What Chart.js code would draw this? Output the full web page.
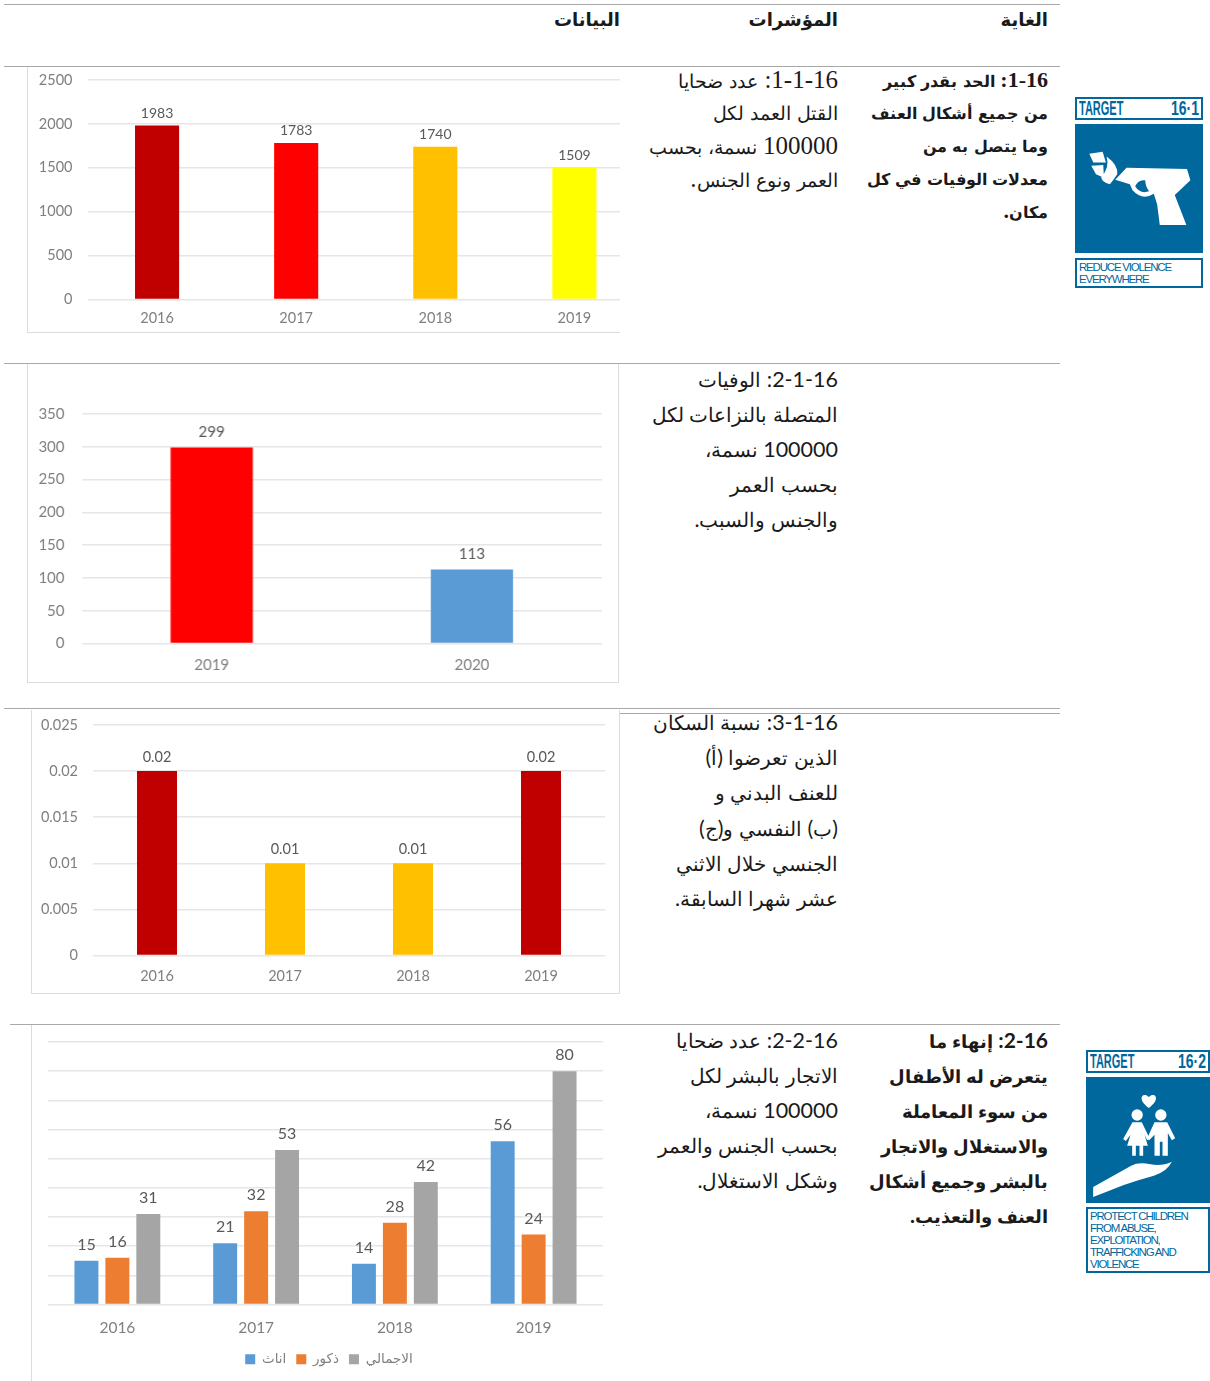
<!DOCTYPE html>
<html lang="ar">
<head>
<meta charset="utf-8">
<title>الغاية 16</title>
<script src="https://cdn.jsdelivr.net/npm/chart.js@4"></script>
<style>
  @font-face { font-family: ArSerif; src: local("DejaVu Sans"); unicode-range: U+0600-06FF; size-adjust: 74%; }
  @font-face { font-family: ArSerifB; src: local("DejaVu Sans Bold"); unicode-range: U+0600-06FF; size-adjust: 73%; }
  @font-face { font-family: ArSans; src: local("DejaVu Sans"); unicode-range: U+0600-06FF; size-adjust: 95%; }
  @font-face { font-family: ArSansB; src: local("DejaVu Sans Bold"); unicode-range: U+0600-06FF; size-adjust: 84%; }
  html, body { margin: 0; padding: 0; background: #fff; }
  body { position: relative; width: 1210px; height: 1381px; overflow: hidden; }
  .rule { position: absolute; height: 1px; background: #a9a9a9; }
  .frame { position: absolute; overflow: hidden; }
  .frame canvas { position: absolute; }
  .edge { position: absolute; left: 0; top: 0; right: 0; bottom: 0; box-sizing: border-box; border: 0 solid #dcdcdc; }
  .line { position: absolute; direction: rtl; white-space: nowrap; color: #1a1a1a; transform: translateY(-50%); text-align: right; }
  .serif { font-family: "Liberation Serif", ArSerif, serif; font-size: 25px; }
  .serifb { font-family: "Liberation Serif", ArSerifB, serif; font-size: 22px; font-weight: bold; }
  .sans { font-family: Lato, ArSans, sans-serif; font-size: 21.5px; }
  .sansb { font-family: Lato, ArSansB, sans-serif; font-size: 21px; font-weight: bold; }
  .head { font-family: "Liberation Sans", "DejaVu Sans", sans-serif; font-size: 18px; font-weight: bold; }
  .ico { position: absolute; color: #00689d; font-family: "Liberation Sans", sans-serif; box-sizing: border-box; }
  .ico.box { border: 2px solid #00689d; }
  .ico.fill { background: #00689d; }
  .tgt { font-weight: bold; font-size: 20px; line-height: 19px; }
  .tgt span { position: absolute; top: 0; }
  .tgt .l { left: 2px; transform: scaleX(.55); transform-origin: left; }
  .tgt .r { right: 2px; transform: scaleX(.7); transform-origin: right; }
  .cap { font-size: 11.5px; line-height: 12px; letter-spacing: -1.2px; padding: 1px 0 0 2px; white-space: pre-line; }
</style>
</head>
<body>
<script>
const fatalYears = ["2016", "2017", "2018", "2019"];
const fatalValues = [1983, 1783, 1740, 1509];
const fatalTicks = [0, 500, 1000, 1500, 2000, 2500];

const conflictYears = ["2019", "2020"];
const conflictValues = [299, 113];
const conflictTicks = [0, 50, 100, 150, 200, 250, 300, 350];

const violenceYears = ["2016", "2017", "2018", "2019"];
const violenceValues = [0.02, 0.01, 0.01, 0.02];
const violenceTicks = [0, 0.005, 0.01, 0.015, 0.02, 0.025];

const traffickYears = ["2016", "2017", "2018", "2019"];
const traffickFemale = [15, 21, 14, 56];
const traffickMale = [16, 32, 28, 24];
const traffickTotal = [31, 53, 42, 80];
const traffickTicks = [0, 10, 20, 30, 40, 50, 60, 70, 80, 90];
const seriesNames = ["اناث", "ذكور", "الاجمالي"];

const headers = ["البيانات", "المؤشرات", "الغاية"];
const target1 = ["1-16: الحد بقدر كبير", "من جميع أشكال العنف", "وما يتصل به من", "معدلات الوفيات في كل", "مكان."];
const target2 = ["2-16: إنهاء ما", "يتعرض له الأطفال", "من سوء المعاملة", "والاستغلال والاتجار", "بالبشر وجميع أشكال", "العنف والتعذيب."];
const indicator1 = ["1-1-16: عدد ضحايا", "القتل العمد لكل", "100000 نسمة، بحسب", "العمر ونوع الجنس."];
const indicator2 = ["2-1-16: الوفيات", "المتصلة بالنزاعات لكل", "100000 نسمة،", "بحسب العمر", "والجنس والسبب."];
const indicator3 = ["3-1-16: نسبة السكان", "الذين تعرضوا (أ)", "للعنف البدني و", "(ب) النفسي و(ج)", "الجنسي خلال الاثني", "عشر شهرا السابقة."];
const indicator4 = ["2-2-16: عدد ضحايا", "الاتجار بالبشر لكل", "100000 نسمة،", "بحسب الجنس والعمر", "وشكل الاستغلال."];

// table rules and text
[[4, 4, 1056], [66, 4, 1056], [363, 4, 1056], [708, 4, 616], [708, 620, 440], [713, 620, 440], [1024, 10, 1050]].forEach(r => {
  const d = document.createElement("div");
  d.className = "rule";
  d.style.cssText = `top:${r[0]}px;left:${r[1]}px;width:${r[2]}px`;
  document.body.appendChild(d);
});

function putLines(lines, right, ys, cls) {
  lines.forEach((t, i) => {
    const d = document.createElement("div");
    d.className = "line " + cls;
    d.textContent = t;
    d.style.right = (1210 - right) + "px";
    d.style.top = ys[i] + "px";
    document.body.appendChild(d);
  });
}

// value labels over the bars
const valueLabels = {
  id: "valueLabels",
  afterDatasetsDraw(chart, args, opts) {
    const c = chart.ctx;
    c.save();
    c.font = opts.font;
    c.fillStyle = "#595959";
    c.textAlign = "center";
    c.textBaseline = "middle";
    chart.data.datasets.forEach((ds, i) => {
      chart.getDatasetMeta(i).data.forEach((bar, j) => {
        c.fillText(String(ds.data[j]), bar.x, bar.y - opts.offset);
      });
    });
    c.restore();
  }
};

// the legend sits right of the plot centre in the picture
const legendNudge = {
  id: "legendNudge",
  afterLayout(chart, args, opts) {
    if (chart.legend && opts.by) {
      chart.legend.left += opts.by;
      chart.legend.right += opts.by;
    }
  }
};

// o.plot is the wanted plot area in page pixels, the canvas starts a bit above the frame
// because chart.js keeps a margin above the top tick when the top padding is small
function barChart(o) {
  const f = document.createElement("div");
  f.className = "frame";
  f.style.cssText = `left:${o.left}px;top:${o.top}px;width:${o.width}px;height:${o.height}px`;
  const lift = 40;
  const canvasW = o.plot.right + 2 - o.left;
  const canvasH = o.height + lift;
  const cv = document.createElement("canvas");
  cv.width = canvasW;
  cv.height = canvasH;
  cv.style.cssText = `left:0;top:${-lift}px;width:${canvasW}px;height:${canvasH}px`;
  f.appendChild(cv);
  const e = document.createElement("div");
  e.className = "edge";
  e.style.borderWidth = o.border;
  f.appendChild(e);
  document.body.appendChild(f);

  return new Chart(cv.getContext("2d"), {
    type: "bar",
    data: { labels: o.labels, datasets: o.datasets },
    plugins: [valueLabels, legendNudge],
    options: {
      responsive: false,
      animation: false,
      layout: { padding: { top: o.plot.top - o.top + lift, right: 2, bottom: o.legendBottom || 0, left: 0 } },
      scales: {
        x: {
          grid: { display: false },
          border: { display: false },
          afterFit: a => { a.height = o.top + o.height - o.plot.bottom - (o.legendSpace || 0); },
          ticks: { color: "#7f7f7f", padding: o.xPad, font: { family: "Lato", size: o.fontSize }, maxRotation: 0 }
        },
        y: {
          min: 0,
          max: o.ticks[o.ticks.length - 1],
          afterBuildTicks: a => { a.ticks = o.ticks.map(v => ({ value: v })); },
          afterFit: a => { a.width = o.plot.left - o.left; },
          grid: { color: "#e6e6e6", lineWidth: 1.5, drawTicks: false },
          border: { display: false },
          ticks: { display: o.showY !== false, color: "#7f7f7f", padding: o.yPad, font: { family: "Lato", size: o.fontSize }, callback: v => String(v) }
        }
      },
      plugins: {
        legend: o.legend || { display: false },
        legendNudge: { by: o.legendNudge || 0 },
        tooltip: { enabled: false },
        valueLabels: { font: o.valueFont, offset: o.valueOffset }
      }
    }
  });
}

putLines([headers[0]], 620, [20], "head");
putLines([headers[1]], 838, [20], "head");
putLines([headers[2]], 1048, [20], "head");
putLines(target1, 1048, [80, 112, 145, 178, 211], "serifb");
putLines(indicator1, 838, [80, 112, 146, 179], "serif");
putLines(indicator2, 838, [379, 414, 449, 484, 519], "sans");
putLines(indicator3, 838, [722, 757, 792, 828, 863, 898], "sans");
putLines(indicator4, 838, [1040, 1075, 1110, 1145, 1180], "sans");
putLines(target2, 1048, [1039, 1074, 1109, 1144, 1179, 1214], "sansb");

barChart({
  left: 27, top: 67, width: 593, height: 266, border: "0 0 1.5px 1.5px",
  plot: { left: 87.5, right: 644, top: 80, bottom: 299.5 },
  labels: fatalYears, ticks: fatalTicks,
  datasets: [{ data: fatalValues, backgroundColor: ["#c00000", "#ff0000", "#ffc000", "#ffff00"], barPercentage: 0.317, categoryPercentage: 1 }],
  xPad: 2, yPad: 15, fontSize: 14.5,
  valueFont: "14px Lato", valueOffset: 12
});
barChart({
  left: 27, top: 364, width: 592, height: 319, border: "0 1.5px 1.5px 1.5px",
  plot: { left: 81.5, right: 601.5, top: 414, bottom: 643.5 },
  labels: conflictYears, ticks: conflictTicks,
  datasets: [{ data: conflictValues, backgroundColor: ["#ff0000", "#5b9bd5"], barPercentage: 0.316, categoryPercentage: 1 }],
  xPad: 5, yPad: 17, fontSize: 15,
  valueFont: "15px Lato", valueOffset: 15
});
barChart({
  left: 31, top: 710, width: 589, height: 284, border: "0 1.5px 1.5px 1.5px",
  plot: { left: 93, right: 605, top: 725, bottom: 955.5 },
  labels: violenceYears, ticks: violenceTicks,
  datasets: [{ data: violenceValues, backgroundColor: ["#c00000", "#ffc000", "#ffc000", "#c00000"], barPercentage: 0.3125, categoryPercentage: 1 }],
  xPad: 4, yPad: 15, fontSize: 14.5,
  valueFont: "14.5px Lato", valueOffset: 14
});
barChart({
  left: 31, top: 1025, width: 600, height: 356, border: "0 0 0 1.5px",
  plot: { left: 48, right: 603, top: 1042, bottom: 1304 },
  labels: traffickYears, ticks: traffickTicks,
  datasets: [
    { label: seriesNames[0], data: traffickFemale, backgroundColor: "#5b9bd5", barPercentage: 0.774, categoryPercentage: 0.669 },
    { label: seriesNames[1], data: traffickMale, backgroundColor: "#ed7d31", barPercentage: 0.774, categoryPercentage: 0.669 },
    { label: seriesNames[2], data: traffickTotal, backgroundColor: "#a5a5a5", barPercentage: 0.774, categoryPercentage: 0.669 }
  ],
  xPad: 6, yPad: 0, fontSize: 15.5, showY: false,
  valueFont: "16px Lato", valueOffset: 16,
  legendBottom: 5, legendSpace: 39, legendNudge: 12,
  legend: {
    display: true,
    position: "bottom",
    labels: { boxWidth: 10, boxHeight: 10, padding: 10, color: "#7f7f7f", font: { family: "DejaVu Sans", size: 13.5 } }
  }
});

// SDG target tiles
function tile(x, yTarget, w, yFill, hFill, yCap, hCap, num, cap, art, box) {
  document.body.insertAdjacentHTML("beforeend",
    `<div class="ico box tgt" style="left:${x}px;top:${yTarget}px;width:${w}px;height:23px"><span class="l">TARGET</span><span class="r">${num}</span></div>` +
    `<div class="ico fill" style="left:${x}px;top:${yFill}px;width:${w}px;height:${hFill}px"><svg viewBox="${box}" width="${w}" height="${hFill}" style="display:block">${art}</svg></div>` +
    `<div class="ico box cap" style="left:${x}px;top:${yCap}px;width:${w}px;height:${hCap}px">${cap}</div>`);
}
const gunArt = `<g fill="#fff">
  <path d="M88 220 L128 214 L138 246 L100 246 Z"/>
  <path d="M94 256 L130 254 L132 292 L108 282 Z"/>
  <path d="M140 228 Q176 254 172 282 Q160 300 150 312 Q124 306 124 290 Q150 262 140 228 Z"/>
  <path fill-rule="evenodd" d="M166 298 L200 262 L382 266 L392 300 L362 328 L345 344 L380 434 L300 434 L292 372 L282 340 Q248 362 218 330 L210 312 Z M226 318 Q240 342 268 333 Q258 322 256 300 Q236 296 226 318 Z"/>
</g>`;
const kidsArt = `<g fill="#fff">
  <path d="M235 205 C195 175 220 155 235 172 C250 155 275 175 235 205 Z"/>
  <circle cx="200" cy="226" r="17"/><circle cx="271" cy="226" r="17"/>
  <path d="M186 248 L214 248 L238 298 L230 302 L222 285 L232 318 L218 318 L218 348 L207 348 L207 318 L196 318 L196 348 L185 348 L185 318 L170 318 L180 285 L166 304 L158 298 Z"/>
  <path d="M252 248 L290 248 L314 296 L304 302 L292 280 L292 348 L276 348 L276 306 L268 306 L268 348 L252 348 L252 285 L236 302 L230 296 Z"/>
  <path d="M68 442 L182 378 Q205 366 240 374 Q275 380 304 366 Q290 395 250 408 Q205 420 160 436 L68 472 Z"/>
</g>`;
tile(1075, 97, 128, 124, 129, 258, 30, "16·1", "REDUCE VIOLENCE\nEVERYWHERE", gunArt, "45 132 385 385");
tile(1086, 1050, 124, 1077, 126, 1207, 66, "16·2", "PROTECT CHILDREN\nFROM ABUSE,\nEXPLOITATION,\nTRAFFICKING AND\nVIOLENCE", kidsArt, "47 112 371 378");
</script>
</body>
</html>
